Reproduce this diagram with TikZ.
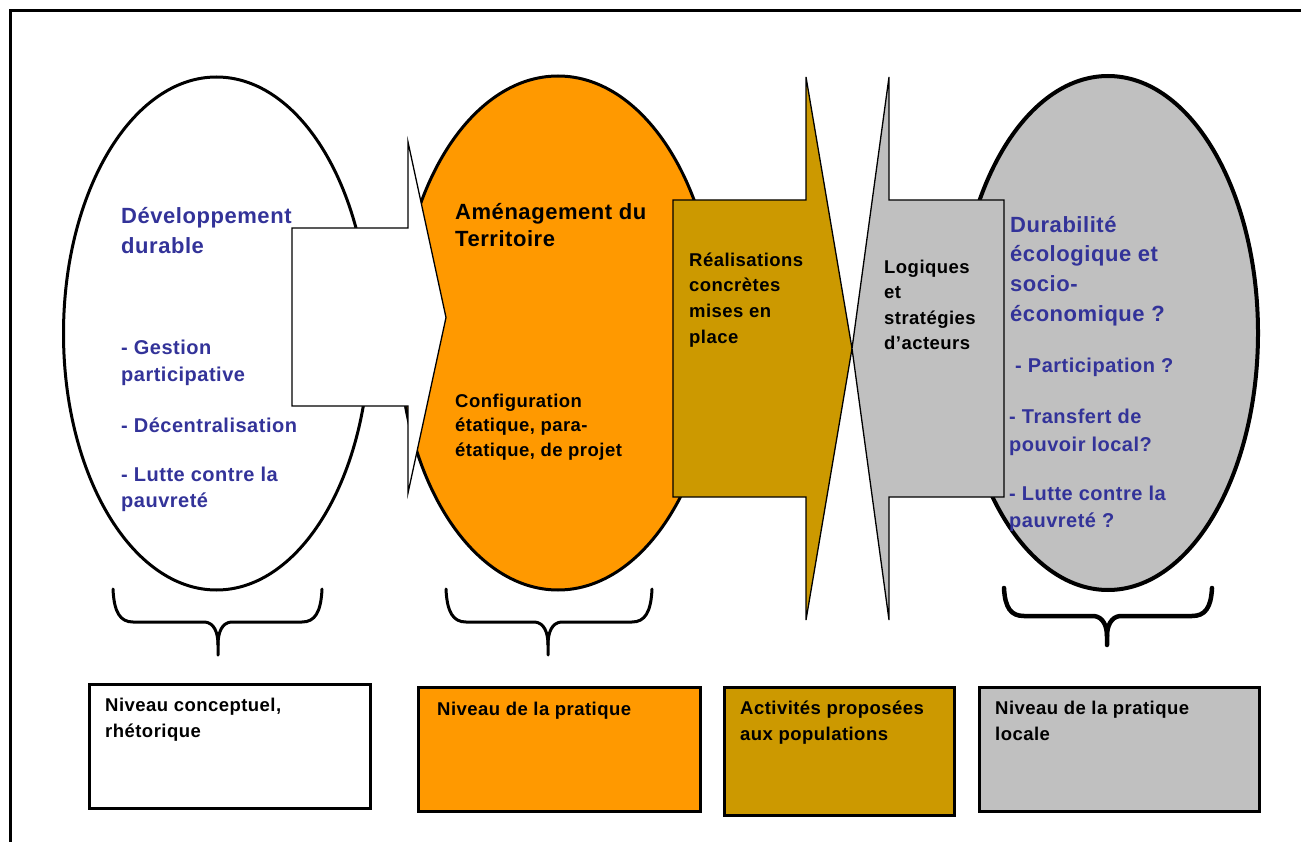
\documentclass[tikz,border=0pt]{standalone}
\usepackage{fontspec}
\newfontfamily\dfont[LetterSpace=2.5]{Liberation Sans}
\usetikzlibrary{shapes.geometric}
\definecolor{tblue}{HTML}{333399}
\definecolor{torange}{HTML}{FF9900}
\definecolor{tgold}{HTML}{CC9900}
\definecolor{tgray}{HTML}{C0C0C0}
\newcommand\tstrut{\rule{0pt}{20pt}}
\begin{document}
\begin{tikzpicture}[x=1pt,y=-1pt,
  ell/.style={ellipse, draw=black, line width=3pt, inner sep=0pt},
  blockarrow/.style={draw=black, line width=1.3pt, line join=miter},
  brace/.style={draw=black, line width=3pt, line cap=round, line join=round},
  lowbox/.style={draw=black, line width=3pt, anchor=north west, inner sep=0pt},
  txt/.style={anchor=north west, inner sep=0pt, align=left},
  big/.style={font=\dfont\bfseries\fontsize{22}{#1}\selectfont},
  mid/.style={font=\dfont\bfseries\fontsize{20}{#1}\selectfont},
  small/.style={font=\dfont\bfseries\fontsize{18.5}{#1}\selectfont}]
\useasboundingbox (0,0) rectangle (1301,842);
\fill[white] (0,0) rectangle (1301,842);
% outer frame (right and bottom sides lie beyond the picture)
\draw[line width=3pt] (10,11) rectangle (1330,870);

% ellipses
\node[ell, fill=white, minimum width=306pt, minimum height=513pt] (e1) at (216.5,333.5) {};
\node[ell, fill=torange, minimum width=318pt, minimum height=514pt] (e2) at (558,333) {};
\node[ell, fill=tgray, line width=4pt, minimum width=300pt, minimum height=514pt] (e3) at (1108,333) {};

% block arrows
\draw[blockarrow, fill=white] (292,228) -- (408,228) -- (408,142) -- (446,317.5) -- (408,493) -- (408,406) -- (292,406) -- cycle;
\draw[blockarrow, fill=tgold] (673,200) -- (806,200) -- (806,77) -- (852,348.5) -- (806,620) -- (806,497) -- (673,497) -- cycle;
\draw[blockarrow, fill=tgray] (1004,200) -- (889,200) -- (889,77) -- (852,348.5) -- (889,620) -- (889,497) -- (1004,497) -- cycle;

% texts in the left ellipse
\node[txt, big=30.5, text=tblue] (t1) at (121,203) {\tstrut Développement\\durable};
\node[txt, mid=27, text=tblue] (t2) at (121,334) {\tstrut - Gestion\\participative};
\node[txt, mid=27, text=tblue] (t3) at (121,412) {\tstrut - Décentralisation};
\node[txt, mid=26.5, text=tblue] (t4) at (121,461) {\tstrut - Lutte contre la\\pauvreté};

% texts in the orange ellipse
\node[txt, big=27.5] (t5) at (455,199) {\tstrut Aménagement du\\Territoire};
\node[txt, small=24.5] (t6) at (455,387) {\tstrut Configuration\\étatique, para-\\étatique, de projet};

% texts in the arrows
\node[txt, small=25.7] (t7) at (689,246) {\tstrut Réalisations\\concrètes\\mises en\\place};
\node[txt, small=25.5] (t8) at (884,253) {\tstrut Logiques\\et\\stratégies\\d’acteurs};

% texts in the grey ellipse
\node[txt, big=29.7, text=tblue] (t9) at (1010,212) {\tstrut Durabilité\\écologique et\\socio-\\économique ?};
\node[txt, mid=27, text=tblue] (t10) at (1015,352) {\tstrut - Participation ?};
\node[txt, mid=28, text=tblue] (t11) at (1009,403) {\tstrut - Transfert de\\pouvoir local?};
\node[txt, mid=27, text=tblue] (t12) at (1009,480) {\tstrut - Lutte contre la\\pauvreté ?};

% braces
\draw[brace] (113,589) .. controls (114,612) and (120,622) .. (133,622) -- (205,622)
  .. controls (214,623) and (218,632) .. (218,645) -- (218,655);
\draw[brace] (322,589) .. controls (321,612) and (315,622) .. (302,622) -- (231,622)
  .. controls (222,623) and (218,632) .. (218,645);
\draw[brace] (446,589) .. controls (447,612) and (453,622) .. (466,622) -- (535,622)
  .. controls (544,623) and (548,632) .. (548,645) -- (548,655);
\draw[brace] (652,589) .. controls (651,612) and (645,622) .. (632,622) -- (561,622)
  .. controls (552,623) and (548,632) .. (548,645);
\draw[brace, line width=4.5pt] (1004,588) .. controls (1005,608) and (1011,616) .. (1024,616) -- (1094,616)
  .. controls (1103,617) and (1107,626) .. (1107,636) -- (1107,645);
\draw[brace, line width=4.5pt] (1212,588) .. controls (1211,608) and (1205,616) .. (1192,616) -- (1120,616)
  .. controls (1111,617) and (1107,626) .. (1107,636);

% lower boxes
\node[lowbox, fill=white, minimum width=281pt, minimum height=124pt] (b1) at (88,683) {};
\node[lowbox, fill=torange, minimum width=282pt, minimum height=124pt] (b2) at (417,686) {};
\node[lowbox, fill=tgold, minimum width=230pt, minimum height=128pt] (b3) at (723,686) {};
\node[lowbox, fill=tgray, minimum width=280pt, minimum height=124pt] (b4) at (978,686) {};
\node[txt, small=26] (l1) at (105,691) {\tstrut Niveau conceptuel,\\rhétorique};
\node[txt, small=26] (l2) at (437,695) {\tstrut Niveau de la pratique};
\node[txt, small=26] (l3) at (740,694) {\tstrut Activités proposées\\aux populations};
\node[txt, small=26] (l4) at (995,694) {\tstrut Niveau de la pratique\\locale};
\end{tikzpicture}
\end{document}
